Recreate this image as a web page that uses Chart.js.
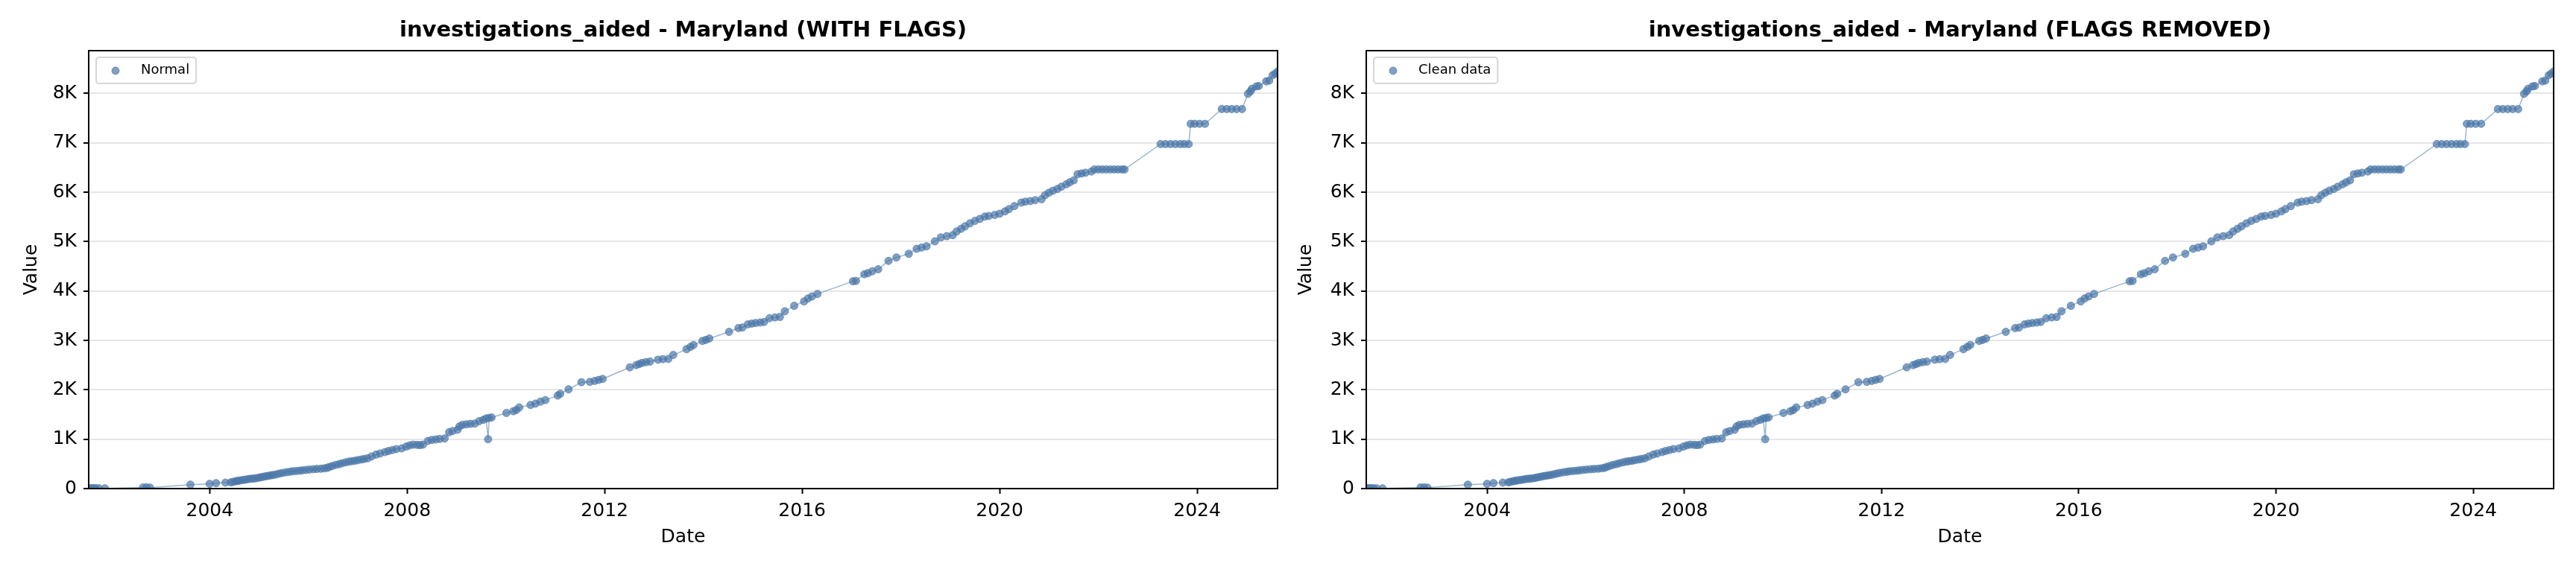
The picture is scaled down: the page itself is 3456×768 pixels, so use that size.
<!DOCTYPE html>
<html>
<head>
<meta charset="utf-8">
<script src="https://cdn.jsdelivr.net/npm/chart.js@4.4.1/dist/chart.umd.min.js"></script>
<style>
  html, body { margin: 0; padding: 0; background: #fff; }
  .panel { position: absolute; top: 0; width: 1728px; height: 768px; }
</style>
</head>
<body>
<div class="panel" style="left:0"><canvas id="chartFlags"></canvas></div>
<div class="panel" style="left:1728px"><canvas id="chartClean"></canvas></div>
<script>
// dates as decimal years
const dates = [
  2001.55, 2001.60, 2001.65, 2001.70, 2001.76, 2001.88, 2002.65, 2002.72, 2002.79, 2003.61,
  2004.00, 2004.13, 2004.32, 2004.43, 2004.47, 2004.52, 2004.56, 2004.60, 2004.65, 2004.70,
  2004.75, 2004.80, 2004.85, 2004.90, 2004.95, 2005.00, 2005.05, 2005.10, 2005.15, 2005.20,
  2005.25, 2005.30, 2005.36, 2005.42, 2005.48, 2005.55, 2005.62, 2005.68, 2005.75, 2005.82,
  2005.88, 2005.95, 2006.02, 2006.10, 2006.17, 2006.25, 2006.32, 2006.38, 2006.42, 2006.48,
  2006.55, 2006.62, 2006.68, 2006.75, 2006.82, 2006.88, 2006.94, 2007.00, 2007.07, 2007.13,
  2007.20, 2007.28, 2007.37, 2007.45, 2007.55, 2007.62, 2007.70, 2007.78, 2007.89, 2007.98,
  2008.05, 2008.12, 2008.20, 2008.26, 2008.32, 2008.42, 2008.50, 2008.58, 2008.66, 2008.76,
  2008.85, 2008.92, 2009.02, 2009.06, 2009.12, 2009.20, 2009.28, 2009.37, 2009.46, 2009.54,
  2009.60, 2009.64, 2009.66, 2009.71, 2010.01, 2010.15, 2010.21, 2010.27, 2010.50, 2010.60,
  2010.70, 2010.80, 2011.05, 2011.10, 2011.27, 2011.53, 2011.70, 2011.80, 2011.88, 2011.96,
  2012.51, 2012.64, 2012.70, 2012.76, 2012.84, 2012.92, 2013.08, 2013.18, 2013.29, 2013.39,
  2013.66, 2013.74, 2013.80, 2013.98, 2014.05, 2014.12, 2014.52, 2014.71, 2014.79, 2014.90,
  2014.98, 2015.06, 2015.15, 2015.23, 2015.34, 2015.45, 2015.55, 2015.65, 2015.84, 2016.04,
  2016.12, 2016.20, 2016.31, 2017.03, 2017.09, 2017.26, 2017.33, 2017.42, 2017.54, 2017.75,
  2017.91, 2018.16, 2018.32, 2018.42, 2018.52, 2018.69, 2018.81, 2018.93, 2019.05, 2019.13,
  2019.22, 2019.30, 2019.40, 2019.50, 2019.60, 2019.70, 2019.78, 2019.90, 2020.00, 2020.11,
  2020.19, 2020.30, 2020.44, 2020.52, 2020.62, 2020.72, 2020.85, 2020.92, 2021.00, 2021.08,
  2021.17, 2021.25, 2021.35, 2021.42, 2021.50, 2021.58, 2021.66, 2021.74, 2021.86, 2021.92,
  2022.00, 2022.08, 2022.16, 2022.24, 2022.32, 2022.40, 2022.48, 2022.53, 2023.26, 2023.36,
  2023.46, 2023.56, 2023.66, 2023.74, 2023.83, 2023.87, 2023.95, 2024.05, 2024.16, 2024.50,
  2024.60, 2024.70, 2024.80, 2024.91, 2025.03, 2025.08, 2025.11, 2025.20, 2025.25, 2025.40,
  2025.46, 2025.53, 2025.58, 2025.63
];
const values = [
  5, 8, 10, 6, 5, 5, 22, 25, 20, 80,
  96, 111, 121, 126, 135, 148, 155, 161, 170, 178,
  186, 195, 200, 205, 211, 222, 232, 243, 252, 260,
  270, 277, 290, 305, 318, 330, 340, 350, 356, 361,
  370, 378, 385, 392, 398, 402, 410, 420, 437, 455,
  478, 495, 512, 530, 545, 555, 563, 575, 588, 600,
  613, 650, 688, 710, 738, 760, 780, 800, 813, 850,
  875, 889, 885, 880, 889, 964, 985, 995, 1005, 1015,
  1140, 1165, 1190, 1260, 1291, 1300, 1310, 1316, 1366, 1391,
  1420, 1000, 1430, 1441, 1531, 1566, 1590, 1642, 1693, 1720,
  1760, 1792, 1883, 1920, 2009, 2154, 2160, 2180, 2200, 2220,
  2455, 2500, 2521, 2545, 2560, 2571, 2610, 2620, 2625, 2706,
  2822, 2870, 2907, 2988, 3010, 3038, 3173, 3249, 3260, 3324,
  3340, 3352, 3362, 3373, 3449, 3465, 3474, 3590, 3700, 3790,
  3850, 3890, 3941, 4197, 4205, 4340, 4360, 4400, 4440, 4610,
  4679, 4754, 4855, 4880, 4905, 5006, 5086, 5110, 5131, 5206,
  5260, 5310, 5370, 5420, 5460, 5507, 5520, 5540, 5565, 5612,
  5658, 5720, 5790, 5809, 5820, 5840, 5858, 5940, 5990, 6030,
  6065, 6110, 6160, 6200, 6240, 6365, 6380, 6395, 6420, 6461,
  6461, 6461, 6461, 6461, 6461, 6461, 6461, 6461, 6975, 6975,
  6975, 6975, 6975, 6975, 6975, 7385, 7385, 7385, 7385, 7684,
  7684, 7684, 7684, 7684, 7992, 8042, 8093, 8143, 8150, 8244,
  8260, 8369, 8400, 8444
];
const xTicks = [2004, 2008, 2012, 2016, 2020, 2024];
const yTicks = [0, 1000, 2000, 3000, 4000, 5000, 6000, 7000, 8000];

const FONT = 'DejaVu Sans';
const BLUE = 'rgba(76,120,168,0.7)';
Chart.defaults.font.family = FONT;
Chart.defaults.color = '#000';

// title centred over the plot area, like matplotlib's ax.set_title
const areaTitle = {
  id: 'areaTitle',
  afterDraw(chart, args, opts) {
    const { ctx, chartArea: a } = chart;
    ctx.save();
    ctx.font = 'bold 29px "' + FONT + '"';
    ctx.fillStyle = '#000';
    ctx.textAlign = 'center';
    ctx.textBaseline = 'middle';
    ctx.fillText(opts.text, (a.left + a.right) / 2, 41);
    ctx.restore();
  }
};

// box around the plot area
const frame = {
  id: 'frame',
  afterDraw(chart) {
    const { ctx, chartArea: a } = chart;
    ctx.save();
    ctx.strokeStyle = '#000';
    ctx.lineWidth = 2;
    ctx.strokeRect(a.left, a.top, a.right - a.left, a.bottom - a.top);
    ctx.restore();
  }
};

// legend box inside the upper-left corner
const innerLegend = {
  id: 'innerLegend',
  afterDraw(chart) {
    const { ctx, chartArea: a } = chart;
    const ds = chart.data.datasets[0];
    ctx.save();
    ctx.font = '18px "' + FONT + '"';
    const tw = ctx.measureText(ds.label).width;
    const x = a.left + 10, y = a.top + 9, w = 60 + tw + 9, h = 35;
    ctx.beginPath();
    ctx.roundRect(x, y, w, h, 4);
    ctx.fillStyle = 'rgba(255,255,255,0.8)';
    ctx.fill();
    ctx.strokeStyle = '#d6d6d6';
    ctx.lineWidth = 2;
    ctx.stroke();
    ctx.beginPath();
    ctx.arc(x + 26, y + 18, 5, 0, Math.PI * 2);
    ctx.fillStyle = BLUE;
    ctx.fill();
    ctx.strokeStyle = BLUE;
    ctx.lineWidth = 1;
    ctx.stroke();
    ctx.fillStyle = '#000';
    ctx.textBaseline = 'middle';
    ctx.fillText(ds.label, x + 60, y + 17);
    ctx.restore();
  }
};

function makeChart(id, titleText, seriesLabel, axisWidth, padRight, valueTitlePad) {
  const points = dates.map((d, i) => ({ x: d, y: values[i] }));
  return new Chart(document.getElementById(id), {
    type: 'line',
    data: {
      datasets: [{
        label: seriesLabel,
        data: points,
        borderColor: 'rgba(76,120,168,0.55)',
        borderWidth: 1.5,
        pointRadius: 5,
        pointBorderWidth: 1,
        pointBackgroundColor: BLUE,
        pointBorderColor: BLUE,
        tension: 0,
        clip: 0
      }]
    },
    options: {
      responsive: true,
      maintainAspectRatio: false,
      animation: false,
      layout: { padding: { left: 0, right: padRight, top: 68, bottom: 0 } },
      plugins: {
        legend: { display: false },
        tooltip: { enabled: false },
        title: { display: false },
        areaTitle: { text: titleText }
      },
      scales: {
        x: {
          type: 'linear',
          min: dates[0],
          max: dates[dates.length - 1],
          afterBuildTicks: s => { s.ticks = xTicks.map(v => ({ value: v })); },
          afterFit: s => { s.height = 112; },
          ticks: { font: { size: 25 }, padding: 8, maxRotation: 0, callback: v => String(v) },
          grid: { drawOnChartArea: false, tickLength: 7, tickColor: '#000', tickWidth: 2 },
          border: { display: false },
          title: { display: true, text: 'Date', font: { size: 25 }, padding: { top: 0, bottom: 32 } }
        },
        y: {
          min: 0,
          max: Math.max(...values) * 1.05,
          afterBuildTicks: s => { s.ticks = yTicks.map(v => ({ value: v })); },
          afterFit: s => { s.width = axisWidth; },
          ticks: { font: { size: 25 }, padding: 9, callback: v => v === 0 ? '0' : (v / 1000) + 'K' },
          grid: { color: '#e6e6e6', lineWidth: 2, tickLength: 7, tickColor: '#000', tickWidth: 2 },
          border: { display: false },
          title: { display: true, text: 'Value', font: { size: 25 }, padding: { top: valueTitlePad, bottom: 0 } }
        }
      }
    },
    plugins: [frame, innerLegend, areaTitle]
  });
}

makeChart('chartFlags', 'investigations_aided - Maryland (WITH FLAGS)', 'Normal', 119, 14, 27);
makeChart('chartClean', 'investigations_aided - Maryland (FLAGS REMOVED)', 'Clean data', 105, 30, 9);
</script>
</body>
</html>
